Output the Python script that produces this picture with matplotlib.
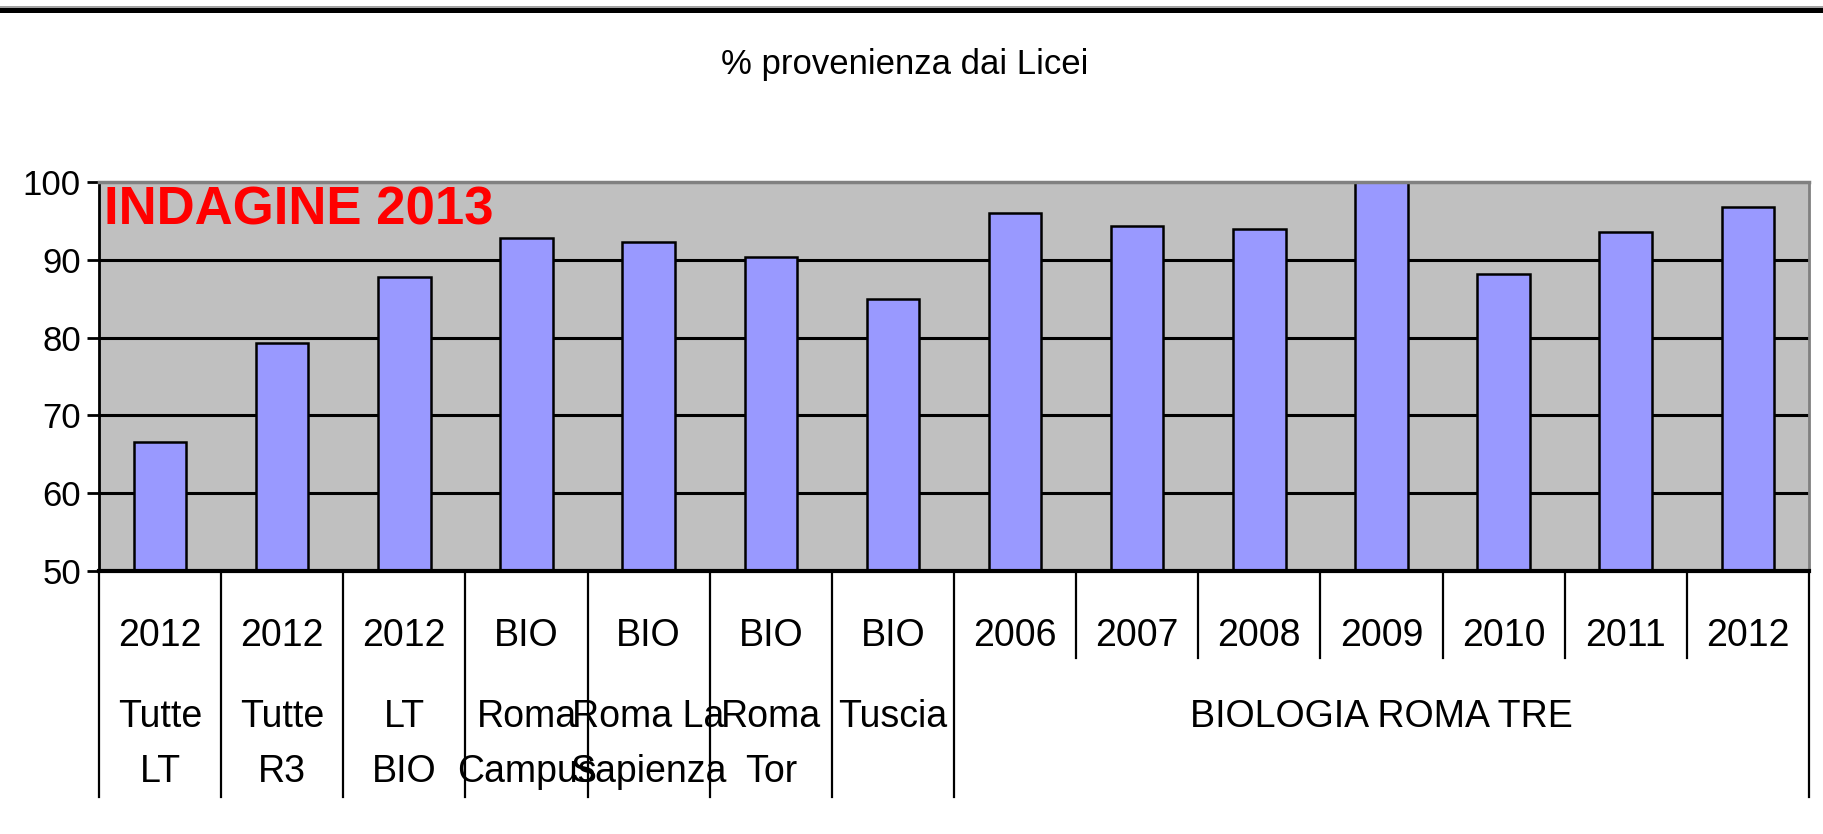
import numpy as np
import matplotlib
matplotlib.use("Agg")
import matplotlib.pyplot as plt
from matplotlib.lines import Line2D
import matplotlib.transforms as mtransforms

plt.rcParams['font.family'] = ['Liberation Sans', 'DejaVu Sans']

# dati
anni = ["2012", "2012", "2012", "BIO", "BIO", "BIO", "BIO",
        "2006", "2007", "2008", "2009", "2010", "2011", "2012"]
riga2 = ["Tutte", "Tutte", "LT", "Roma", "Roma La", "Roma", "Tuscia"]
riga3 = ["LT", "R3", "BIO", "Campus", "Sapienza", "Tor", ""]
gruppo = "BIOLOGIA ROMA TRE"
valori = [66.6, 79.3, 87.8, 92.8, 92.3, 90.4, 85.0,
          96.0, 94.4, 94.0, 100.0, 88.2, 93.6, 96.8]
yticks = [50, 60, 70, 80, 90, 100]

n = len(valori)
x = np.arange(n)

fig = plt.figure(figsize=(18.23, 8.34), dpi=100)
ax = fig.add_axes([0.0543, 0.3153, 0.938, 0.4665])
ax.set_facecolor("#C0C0C0")

for y in yticks[1:-1]:
    ax.axhline(y, color="black", lw=2.2, zorder=1)

ax.bar(x, [v - 50 for v in valori], bottom=50, width=0.43,
       color="#9999FF", edgecolor="black", linewidth=1.8, zorder=3)

ax.set_xlim(-0.5, n - 0.5)
ax.set_ylim(50, 100)
ax.set_yticks(yticks)
ax.set_yticklabels([str(t) for t in yticks], fontsize=25)
ax.tick_params(axis="y", length=9, width=2, pad=4)
ax.set_xticks([])

ax.spines["left"].set_linewidth(2)
ax.spines["bottom"].set_linewidth(3)
ax.spines["top"].set_color("#808080")
ax.spines["top"].set_linewidth(2.5)
ax.spines["right"].set_color("#808080")
ax.spines["right"].set_linewidth(2)
for s in ax.spines.values():
    s.set_zorder(4)

ax.text(0.003, 0.99, "INDAGINE 2013", transform=ax.transAxes, ha="left", va="top",
        color="red", fontsize=38, fontweight="bold", zorder=5)

# asse categorie a più livelli
tr = mtransforms.blended_transform_factory(ax.transData, fig.transFigure)
y_ax = 0.3153
y_lungo = 0.0444
y_corto = 0.211
for i in range(n + 1):
    xb = i - 0.5
    y_end = y_lungo if (i <= 7 or i == n) else y_corto
    ax.add_line(Line2D([xb, xb], [y_ax, y_end], transform=tr, color="black",
                       lw=1.6, clip_on=False))

fs = 27
for i, a in enumerate(anni):
    ax.text(i, 0.238, a, transform=tr, ha="center", va="center", fontsize=fs)
for i, (r2, r3) in enumerate(zip(riga2, riga3)):
    ax.text(i, 0.1403, r2, transform=tr, ha="center", va="center", fontsize=fs)
    if r3:
        ax.text(i, 0.0743, r3, transform=tr, ha="center", va="center", fontsize=fs)
ax.text((7 + n - 1) / 2, 0.1403, gruppo, transform=tr, ha="center", va="center",
        fontsize=fs)

fig.text(0.496, 0.923, "% provenienza dai Licei", ha="center", va="center", fontsize=25)

# linea in alto
fig.add_artist(Line2D([0, 1], [0.9922, 0.9922], transform=fig.transFigure,
                      color="#909090", lw=1.2))
fig.add_artist(Line2D([0, 1], [0.9886, 0.9886], transform=fig.transFigure,
                      color="black", lw=3.6))

fig.savefig("out.png", dpi=100)
